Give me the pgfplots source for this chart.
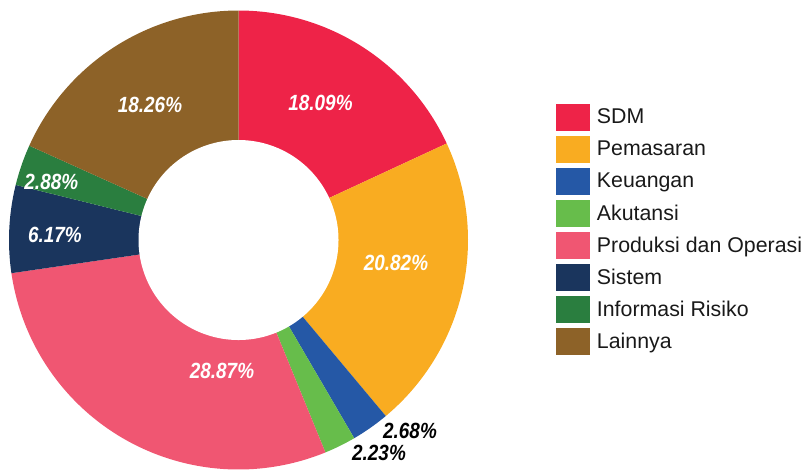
\documentclass[border=0pt]{standalone}
\usepackage{pgfplots}
\pgfplotsset{compat=1.18}
\usepackage{fontspec}
\setmainfont{Liberation Sans}
\newfontfamily\labfont[FakeStretch=0.86]{Liberation Sans}
\newcommand\labsize{\labfont\bfseries\itshape\fontsize{16.5}{19}\selectfont}
\definecolor{cSDM}{HTML}{EE2348}
\definecolor{cPem}{HTML}{F9AC21}
\definecolor{cKeu}{HTML}{2558A6}
\definecolor{cAku}{HTML}{67BD4B}
\definecolor{cPro}{HTML}{F05672}
\definecolor{cSis}{HTML}{1A355D}
\definecolor{cInf}{HTML}{2A7E3F}
\definecolor{cLai}{HTML}{8D6228}
\begin{document}
\begin{tikzpicture}
\def\cx{238.5}\def\cy{240}\def\Rout{229.5}\def\Rin{100}
\begin{axis}[width=604.5pt,height=354pt,scale only axis,hide axis,
  xmin=0,xmax=806,ymin=0,ymax=472,y dir=reverse,clip=false,
  legend image code/.code={\fill[#1] (0pt,-10.125pt) rectangle (25.5pt,10.125pt);},
  legend cell align=left,
  legend style={draw=none,fill=none,at={(axis cs:556,103.5)},anchor=north west,
    inner sep=0pt,row sep=3.75pt,
    nodes={inner sep=0pt,font=\fontsize{16}{18}\selectfont,text=black!90},
    /tikz/every odd column/.append style={column sep=5pt}}]
\addplot[draw=none,forget plot] coordinates {(0,0) (806,472)};
\gdef\cum{0}
\foreach \v/\c in {18.09/cSDM,20.82/cPem,2.68/cKeu,2.23/cAku,28.87/cPro,6.17/cSis,2.88/cInf,18.26/cLai}{
  \pgfmathsetmacro\sa{90-3.6*\cum}
  \pgfmathsetmacro\cumn{\cum+\v}
  \pgfmathsetmacro\sb{90-3.6*\cumn}
  \edef\temp{\noexpand\addplot[fill=\c,draw=none,forget plot,samples at={-1,0,1,...,100}]
    ({x<0 ? \cx : \cx+\Rout*cos(\sa+(\sb-\sa)*x/100)},{x<0 ? \cy : \cy-\Rout*sin(\sa+(\sb-\sa)*x/100)});}
  \temp
  \xdef\cum{\cumn}
}
\addplot[fill=white,draw=none,forget plot,samples at={0,1,...,360}]
  ({\cx+\Rin*cos(x)},{\cy-\Rin*sin(x)});
\addlegendimage{fill=cSDM,draw=none}\addlegendentry{SDM}
\addlegendimage{fill=cPem,draw=none}\addlegendentry{Pemasaran}
\addlegendimage{fill=cKeu,draw=none}\addlegendentry{Keuangan}
\addlegendimage{fill=cAku,draw=none}\addlegendentry{Akutansi}
\addlegendimage{fill=cPro,draw=none}\addlegendentry{Produksi dan Operasi}
\addlegendimage{fill=cSis,draw=none}\addlegendentry{Sistem}
\addlegendimage{fill=cInf,draw=none}\addlegendentry{Informasi Risiko}
\addlegendimage{fill=cLai,draw=none}\addlegendentry{Lainnya}
\node[font=\labsize,text=white] at (axis cs:320.5,103.3) {18.09\%};
\node[font=\labsize,text=white] at (axis cs:396,263) {20.82\%};
\node[font=\labsize,text=white] at (axis cs:222,371) {28.87\%};
\node[font=\labsize,text=white] at (axis cs:55,235) {6.17\%};
\node[font=\labsize,text=white] at (axis cs:51.3,182) {2.88\%};
\node[font=\labsize,text=white] at (axis cs:150,105) {18.26\%};
\node[font=\labsize,text=black] at (axis cs:410,430.5) {2.68\%};
\node[font=\labsize,text=black] at (axis cs:379,452.5) {2.23\%};
\end{axis}
\end{tikzpicture}
\end{document}
